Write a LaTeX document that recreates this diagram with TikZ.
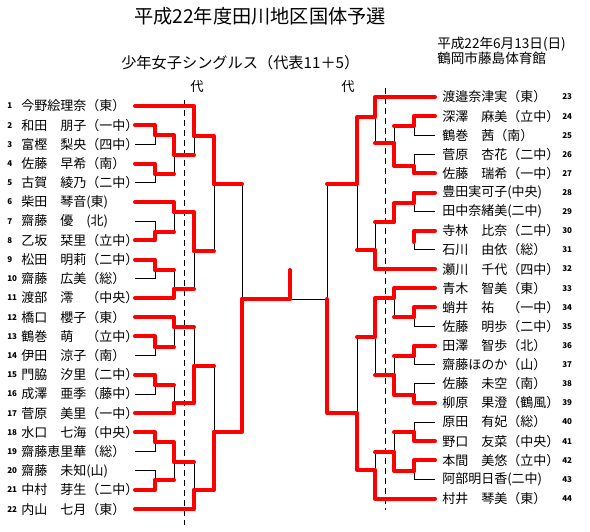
\documentclass[tikz,border=0pt]{standalone}
\usepackage{fontspec}
\usepackage{tikz}
\usetikzlibrary{calc}
\newfontfamily\jpfont{Noto Sans CJK JP}
\tikzset{
  bk/title/.style={inner sep=0pt, font=\jpfont\fontsize{14.4}{15}\selectfont},
  bk/head/.style={anchor=west, inner sep=0pt, font=\jpfont\fontsize{11.4}{12}\selectfont},
  bk/info/.style={anchor=west, inner sep=0pt, font=\jpfont\fontsize{10.2}{11}\selectfont},
  bk/mark/.style={inner sep=0pt, font=\jpfont\fontsize{10}{10}\selectfont},
  bk/player/.style={anchor=west, inner sep=0pt, font=\jpfont\fontsize{9.75}{10}\selectfont},
  bk/num/.style={anchor=west, inner sep=0pt, font=\jpfont\bfseries\fontsize{6}{6}\selectfont},
  bk/win/.style={draw=red, line width=3pt, line cap=round, line join=round},
  bk/lose/.style={draw=black, line width=0.75pt},
  bk/seed/.style={draw=black, line width=0.75pt, dash pattern=on 4.5pt off 3pt}
}

\begin{document}
\begin{tikzpicture}[x=0.75pt, y=-0.75pt]
  \useasboundingbox (0,0) rectangle (590,532);

  % headings
  \node[bk/title] (title) at (260,16) {平成22年度田川地区国体予選};
  \node[bk/head] (event) at (121,63) {少年女子シングルス（代表11＋5）};
  \node[bk/info] (date) at (437,44) {平成22年6月13日(日)};
  \node[bk/info] (venue) at (437,58) {鶴岡市藤島体育館};
  \node[bk/mark] (dai1) at (197,87) {代};
  \node[bk/mark] (dai2) at (348,87) {代};

  % players, left half
  \foreach \nm [count=\i] in {今野絵理奈（東）, 和田　朋子（一中）, 富樫　梨央（四中）, 佐藤　早希（南）,
      古賀　綾乃（二中）, 柴田　琴音(東), 齋藤　優　(北), 乙坂　栞里（立中）, 松田　明莉（二中）,
      齋藤　広美（総）, 渡部　澪　（中央）, 橋口　櫻子（東）, 鶴巻　萌　（立中）, 伊田　涼子（南）,
      門脇　汐里（二中）, 成澤　亜季（藤中）, 菅原　美里（一中）, 水口　七海（中央）,
      齋藤恵里華（総）, 齋藤　未知(山), 中村　芽生（二中）, 内山　七月（東）} {
    \node[bk/player] (p\i) at (21,{106+(\i-1)*19.2}) {\nm};
    \node[bk/num] (n\i) at (7,{106+(\i-1)*19.2}) {\i};
    \coordinate (e\i) at (135,{106+(\i-1)*19.2});
  }

  % players, right half
  \foreach \nm [count=\i from 23] in {渡邉奈津実（東）, 深澤　麻美（立中）, 鶴巻　茜（南）, 菅原　杏花（二中）,
      佐藤　瑞希（一中）, 豊田実可子(中央), 田中奈緒美(二中), 寺林　比奈（二中）, 石川　由依（総）,
      瀬川　千代（四中）, 青木　智美（東）, 蛸井　祐　（一中）, 佐藤　明歩（二中）, 田澤　智歩（北）,
      齋藤ほのか（山）, 佐藤　未空（南）, 柳原　果澄（鶴風）, 原田　有妃（総）, 野口　友菜（中央）,
      本間　美悠（立中）, 阿部明日香(二中), 村井　琴美（東）} {
    \node[bk/player] (p\i) at (442,{97+(\i-23)*19.12}) {\nm};
    \node[bk/num] (n\i) at (562,{97+(\i-23)*19.12}) {\i};
    \coordinate (e\i) at (435,{97+(\i-23)*19.12});
  }

  % match points, left
  \coordinate (a23) at (155,135);   \coordinate (a45) at (155,174);
  \coordinate (b25) at (174,155);   \coordinate (c15) at (194,136);
  \coordinate (a78) at (155,232);   \coordinate (b68) at (174,212);
  \coordinate (a910) at (155,270);  \coordinate (b911) at (174,289);
  \coordinate (c611) at (194,251);  \coordinate (d111) at (214,184);
  \coordinate (a1314) at (155,347); \coordinate (b1214) at (174,327);
  \coordinate (a1516) at (155,385); \coordinate (b1517) at (174,403);
  \coordinate (c1217) at (194,366); \coordinate (a1819) at (155,442);
  \coordinate (a2021) at (155,480); \coordinate (b1821) at (174,462);
  \coordinate (c1822) at (194,490); \coordinate (d1222) at (214,432);
  \coordinate (fl) at (242,299);
  % match points, right
  \coordinate (r2425) at (414,126); \coordinate (r2627) at (414,166);
  \coordinate (s2427) at (394,143); \coordinate (t2327) at (375,117);
  \coordinate (r2829) at (414,203); \coordinate (r3031) at (414,242);
  \coordinate (s2831) at (394,222); \coordinate (t2832) at (375,250);
  \coordinate (u2332) at (357,184); \coordinate (r3435) at (414,317);
  \coordinate (s3335) at (394,298); \coordinate (r3637) at (414,356);
  \coordinate (r3839) at (414,395); \coordinate (s3639) at (394,375);
  \coordinate (t3339) at (375,337); \coordinate (r4041) at (414,432);
  \coordinate (r4243) at (414,471); \coordinate (s4043) at (394,452);
  \coordinate (t4044) at (375,470); \coordinate (u3344) at (357,413);
  \coordinate (fr) at (327,299);
  % final
  \coordinate (champ) at (290,299);
  \coordinate (champtop) at (290,270);

  % seed lines
  \draw[bk/seed] (184,100) -- (184,525);
  \draw[bk/seed] (385,88) -- (385,510);

  % beaten players
  \foreach \l/\m in {e3/a23, e5/a45, e7/a78, e10/a910, e14/a1314, e16/a1516, e19/a1819, e20/a2021,
      e25/r2425, e26/r2627, e29/r2829, e31/r3031, e35/r3435, e37/r3637, e38/r3839, e40/r4041, e43/r4243}
    \draw[bk/lose] (\l) -| (\m);
  % beaten winners of earlier rounds
  \foreach \l/\m in {a45/b25, b25/c15, a78/b68, a910/b911, b911/c611, c611/d111, a1314/b1214,
      a1516/b1517, b1214/c1217, a2021/b1821, b1821/c1822, c1217/d1222, d111/fl,
      r2425/s2427, s2427/t2327, s2831/t2832, t2832/u2332, r3435/s3335, r3637/s3639,
      s3639/t3339, r4041/s4043, s4043/t4044, t3339/u3344, u2332/fr} {
    \draw[bk/lose] (\l -| \m) -- (\m);
    \draw[bk/win] (\l) -- (\l -| \m);
  }
  \draw[bk/lose] (champ) -- (fr);
  % winners
  \foreach \w/\m in {e2/a23, e4/a45, a23/b25, e1/c15, e8/a78, e6/b68, e9/a910, e11/b911, b68/c611,
      c15/d111, e13/a1314, e12/b1214, e15/a1516, e17/b1517, b1517/c1217, e18/a1819, e21/a2021,
      a1819/b1821, e22/c1822, c1822/d1222, d1222/fl,
      e24/r2425, e27/r2627, r2627/s2427, e23/t2327, e28/r2829, e30/r3031, r2829/s2831, e32/t2832,
      t2327/u2332, e34/r3435, e33/s3335, e36/r3637, e39/r3839, r3839/s3639, s3335/t3339,
      e41/r4041, e42/r4243, r4243/s4043, e44/t4044, t4044/u3344, u3344/fr}
    \draw[bk/win] (\w) -| (\m);
  \draw[bk/win] (fl) -- (champ) -- (champtop);
\end{tikzpicture}
\end{document}
